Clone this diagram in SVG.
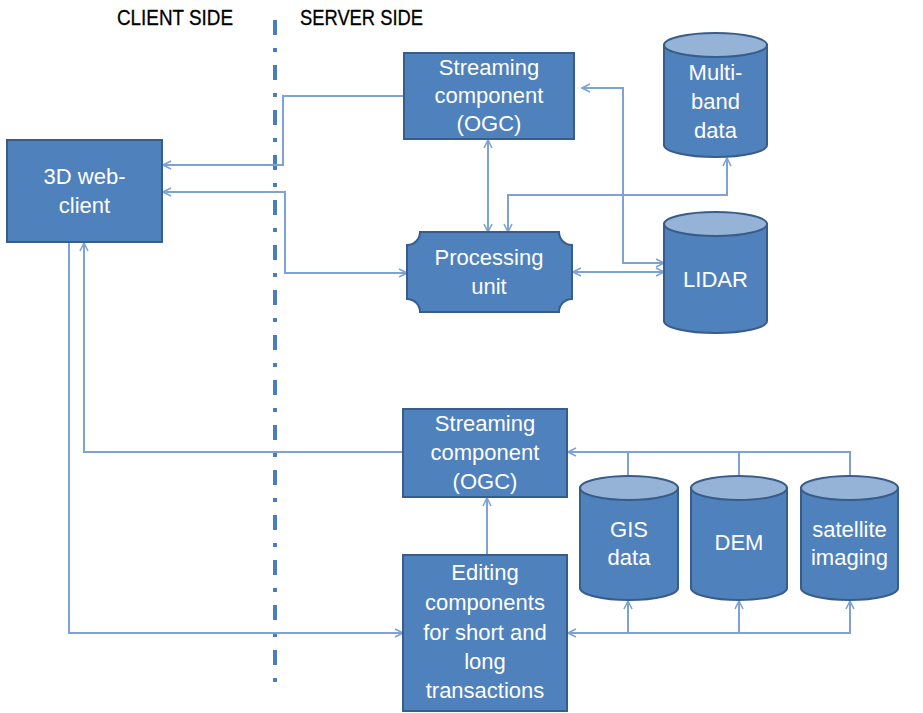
<svg xmlns="http://www.w3.org/2000/svg" width="923" height="713" viewBox="0 0 923 713">
  <defs>
    <style>
      .node { fill: #4F81BD; stroke: #385D8A; stroke-width: 2; }
      .cap { fill: #95B3D7; stroke: #385D8A; stroke-width: 2; }
      .lbl { font-family: "Liberation Sans", Arial, sans-serif; font-size: 22px; fill: #FFFFFF; text-anchor: middle; }
      .head { font-family: "Liberation Sans", Arial, sans-serif; font-size: 22px; fill: #000000; stroke: #000000; stroke-width: 0.3; }
      .wire { fill: none; stroke: #7EA2D6; stroke-width: 2; }
      .divider { fill: none; stroke: #4A7EBB; stroke-width: 4; stroke-dasharray: 15 13 4 13; }
    </style>
    <marker id="arr" viewBox="0 0 10 10" refX="9" refY="5" markerWidth="10" markerHeight="10" markerUnits="userSpaceOnUse" orient="auto-start-reverse">
      <path d="M1,1 L9,5 L1,9" fill="none" stroke="#7EA2D6" stroke-width="1.6"/>
    </marker>
  </defs>

  <!-- side headings and divider -->
  <text class="head" x="117" y="25" textLength="116" lengthAdjust="spacingAndGlyphs">CLIENT SIDE</text>
  <text class="head" x="300" y="25" textLength="123" lengthAdjust="spacingAndGlyphs">SERVER SIDE</text>
  <line class="divider" x1="275" y1="20" x2="275" y2="683"/>

  <!-- connectors -->
  <g id="connectors">
    <!-- top streaming -> web client -->
    <path class="wire" d="M404,96 H283 V165 H163" marker-end="url(#arr)"/>
    <!-- processing unit <-> web client -->
    <path class="wire" d="M163,192 H285 V273 H407" marker-start="url(#arr)" marker-end="url(#arr)"/>
    <!-- top streaming <-> processing unit -->
    <path class="wire" d="M488,140 V232" marker-start="url(#arr)" marker-end="url(#arr)"/>
    <!-- multi-band <-> processing unit -->
    <path class="wire" d="M727,158 V195 H508 V232" marker-start="url(#arr)" marker-end="url(#arr)"/>
    <!-- top streaming <-> LIDAR -->
    <path class="wire" d="M582,88 H623 V263 H664" marker-start="url(#arr)" marker-end="url(#arr)"/>
    <!-- processing unit <-> LIDAR -->
    <path class="wire" d="M573,272 H664" marker-start="url(#arr)" marker-end="url(#arr)"/>
    <!-- bottom streaming -> web client -->
    <path class="wire" d="M403,452 H84 V243" marker-end="url(#arr)"/>
    <!-- web client -> editing -->
    <path class="wire" d="M69,242 V633 H403" marker-end="url(#arr)"/>
    <!-- editing -> bottom streaming -->
    <path class="wire" d="M487,555 V498" marker-end="url(#arr)"/>
    <!-- data stores -> bottom streaming -->
    <path class="wire" d="M850,476 V452 H568" marker-end="url(#arr)"/>
    <path class="wire" d="M628,476 V452"/>
    <path class="wire" d="M739,476 V452"/>
    <!-- editing <-> data stores -->
    <path class="wire" d="M850,601 V633 H568" marker-start="url(#arr)" marker-end="url(#arr)"/>
    <path class="wire" d="M628,633 V601" marker-end="url(#arr)"/>
    <path class="wire" d="M739,633 V601" marker-end="url(#arr)"/>
  </g>

  <!-- client -->
  <g id="web-client">
    <rect class="node" x="7" y="140" width="155" height="102"/>
    <text class="lbl" x="84.5" y="184">3D web-</text>
    <text class="lbl" x="84.5" y="213">client</text>
  </g>

  <!-- server components -->
  <g id="streaming-top">
    <rect class="node" x="404" y="53" width="170" height="86"/>
    <text class="lbl" x="489" y="75">Streaming</text>
    <text class="lbl" x="489" y="103">component</text>
    <text class="lbl" x="489" y="131">(OGC)</text>
  </g>

  <g id="processing-unit">
    <path class="node" d="M420,232 H559 A13,13 0 0 0 572,245 V299 A13,13 0 0 0 559,312 H420 A13,13 0 0 0 407,299 V245 A13,13 0 0 0 420,232 Z"/>
    <text class="lbl" x="489" y="265">Processing</text>
    <text class="lbl" x="489" y="294">unit</text>
  </g>

  <g id="multiband">
    <path class="node" d="M664,45 V145 A51.5,12 0 0 0 767,145 V45 Z"/>
    <ellipse class="cap" cx="715.5" cy="45" rx="51.5" ry="12"/>
    <text class="lbl" x="715.5" y="80">Multi-</text>
    <text class="lbl" x="715.5" y="109">band</text>
    <text class="lbl" x="715.5" y="138">data</text>
  </g>

  <g id="lidar">
    <path class="node" d="M664,224 V321 A51.5,12 0 0 0 767,321 V224 Z"/>
    <ellipse class="cap" cx="715.5" cy="224" rx="51.5" ry="12"/>
    <text class="lbl" x="715.5" y="287">LIDAR</text>
  </g>

  <g id="streaming-bottom">
    <rect class="node" x="403" y="409" width="164" height="88"/>
    <text class="lbl" x="485" y="431">Streaming</text>
    <text class="lbl" x="485" y="460">component</text>
    <text class="lbl" x="485" y="489">(OGC)</text>
  </g>

  <g id="editing">
    <rect class="node" x="403" y="555" width="164" height="156"/>
    <text class="lbl" x="485" y="580">Editing</text>
    <text class="lbl" x="485" y="610">components</text>
    <text class="lbl" x="485" y="640">for short and</text>
    <text class="lbl" x="485" y="669">long</text>
    <text class="lbl" x="485" y="698">transactions</text>
  </g>

  <g id="gis">
    <path class="node" d="M580,488 V588 A49,12 0 0 0 678,588 V488 Z"/>
    <ellipse class="cap" cx="629" cy="488" rx="49" ry="12"/>
    <text class="lbl" x="629" y="537">GIS</text>
    <text class="lbl" x="629" y="565">data</text>
  </g>

  <g id="dem">
    <path class="node" d="M691,488 V588 A48,12 0 0 0 787,588 V488 Z"/>
    <ellipse class="cap" cx="739" cy="488" rx="48" ry="12"/>
    <text class="lbl" x="739" y="550">DEM</text>
  </g>

  <g id="satellite">
    <path class="node" d="M801,488 V588 A48.5,12 0 0 0 898,588 V488 Z"/>
    <ellipse class="cap" cx="849.5" cy="488" rx="48.5" ry="12"/>
    <text class="lbl" x="849.5" y="537">satellite</text>
    <text class="lbl" x="849.5" y="565">imaging</text>
  </g>
</svg>
